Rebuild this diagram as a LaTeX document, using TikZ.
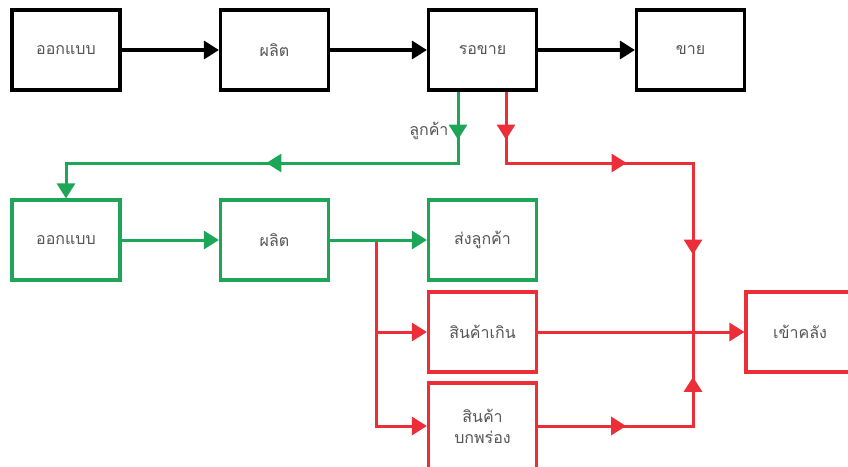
\documentclass[tikz,border=0pt]{standalone}
\usepackage{fontspec}
\usepackage{xcolor}
\newfontfamily\thaifont[Script=Thai]{Loma}
\usetikzlibrary{arrows.meta, decorations.markings}

\begin{document}
\begin{tikzpicture}[x=1pt, y=-1pt, >={Triangle[width=18pt, length=15pt]}]

\definecolor{flowgreen}{RGB}{30, 166, 88}
\definecolor{flowred}{RGB}{236, 46, 56}
\definecolor{labelgrey}{RGB}{85, 85, 85}

% Page frame
\useasboundingbox (0,0) rectangle (848,466);

\tikzset{
    stage/.style={
        draw, line width=3.2pt, fill=white,
        rectangle, inner sep=2pt,
        minimum width=108pt, minimum height=80pt,
        text=labelgrey, font=\thaifont\fontsize{16}{21}\selectfont, align=center
    },
    black stage/.style={stage, draw=black},
    green stage/.style={stage, draw=flowgreen},
    red stage/.style={stage, draw=flowred},
    black flow/.style={draw=black, line width=3.4pt, ->},
    green flow/.style={draw=flowgreen, line width=3pt},
    red flow/.style={draw=flowred, line width=3pt},
    two mid arrows/.style n args={2}{
        postaction=decorate,
        decoration={markings,
            mark=at position #1 with {\arrow{>}},
            mark=at position #2 with {\arrow{>}}}
    },
    three mid arrows/.style n args={3}{
        postaction=decorate,
        decoration={markings,
            mark=at position #1 with {\arrow{>}},
            mark=at position #2 with {\arrow{>}},
            mark=at position #3 with {\arrow{>}}}
    }
}

% Normal flow
\node[black stage] (D1) at (66, 50) {ออกแบบ};
\node[black stage] (M1) at (274.5, 50) {ผลิต};
\node[black stage] (W1) at (482.5, 50) {รอขาย};
\node[black stage] (S1) at (690.5, 50) {ขาย};

\draw[black flow] (D1) -- (M1);
\draw[black flow] (M1) -- (W1);
\draw[black flow] (W1) -- (S1);

% Customer order flow
\node[green stage] (D2) at (66, 240) {ออกแบบ};
\node[green stage] (M2) at (274.5, 240) {ผลิต};
\node[green stage] (C2) at (482.5, 240) {ส่งลูกค้า};

% Surplus and defects
\node[red stage] (X3) at (482.5, 332) {สินค้าเกิน};
\node[red stage, minimum height=86pt] (B3) at (482.5, 426) {สินค้า\\บกพร่อง};
\node[red stage] (K3) at (800, 332) {เข้าคลัง};

\coordinate (gturn) at (458, 163);
\coordinate (rturn) at (506, 163);
\coordinate (rcorner) at (693, 163);
\coordinate (rjoin) at (693, 332);
\coordinate (bcorner) at (693, 426);
\coordinate (split) at (376, 240);

\draw[green flow, ->, two mid arrows={48pt}{263pt}]
    (W1.south -| gturn) -- (gturn) -- (gturn -| D2) -- (D2.north);
\node[text=labelgrey, font=\thaifont\fontsize{16}{21}\selectfont, left=6pt] at (458, 131) {ลูกค้า};

\draw[green flow, ->] (D2) -- (M2);
\draw[green flow, ->] (M2) -- (C2);

\draw[red flow, three mid arrows={48pt}{192pt}{350pt}]
    (W1.south -| rturn) -- (rturn) -- (rcorner) -- (rjoin);
\draw[red flow, ->] ([yshift=-1.5pt]split) |- (X3.west);
\draw[red flow, ->] ([yshift=-1.5pt]split) |- (B3.west);
\draw[red flow, ->] (X3.east) -- (K3.west);
\draw[red flow, two mid arrows={88pt}{204pt}]
    (B3.east) -- (bcorner) -- (rjoin);

\end{tikzpicture}
\end{document}
